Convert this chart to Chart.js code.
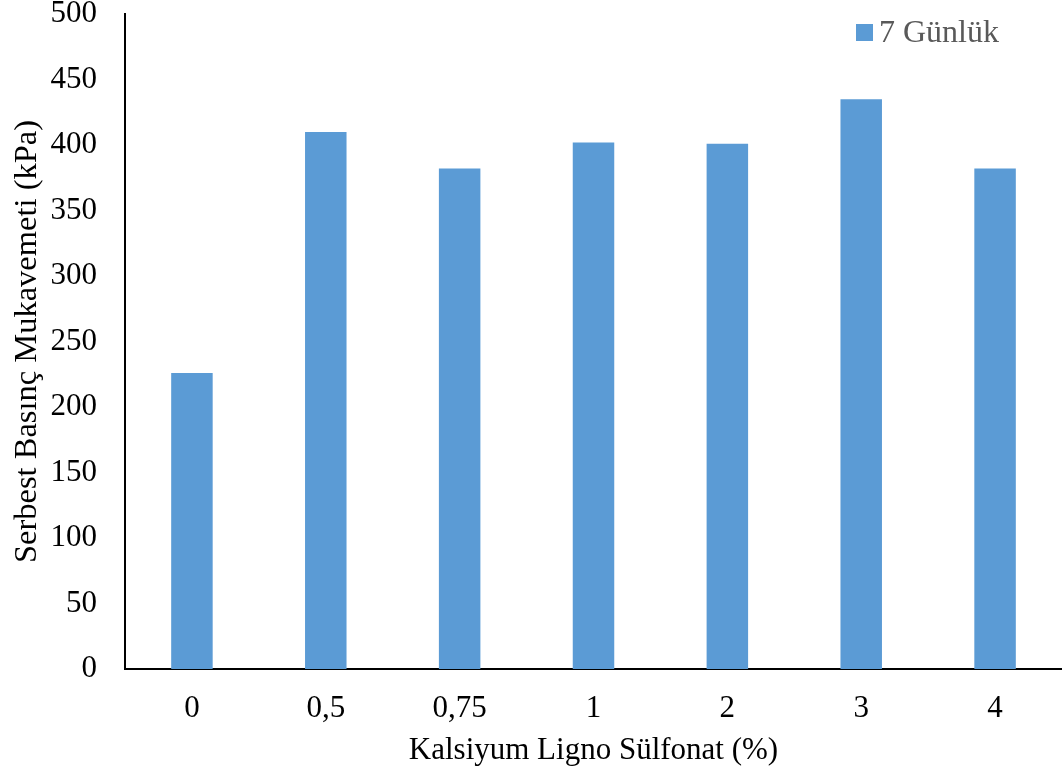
<!DOCTYPE html>
<html>
<head>
<meta charset="utf-8">
<script src="https://cdn.jsdelivr.net/npm/chart.js@4/dist/chart.umd.min.js"></script>
<style>
  html, body { margin: 0; padding: 0; background: #fff; }
  #wrap { width: 1062px; height: 771px; }
</style>
</head>
<body>
<div id="wrap"><canvas id="chart"></canvas></div>
<script>
// Données
const categories = ["0", "0,5", "0,75", "1", "2", "3", "4"];
const values7 = [226, 410, 382, 402, 401, 435, 382];
const seriesLabel = "7 Günlük";
const yTicks = [0, 50, 100, 150, 200, 250, 300, 350, 400, 450, 500];

const barColor = "#5B9BD5";
const serif = "'Liberation Serif', 'Times New Roman', serif";

// Légende dessinée dans la zone du graphique (coin haut droit)
const insideLegend = {
  id: "insideLegend",
  afterDraw(chart) {
    const ctx = chart.ctx;
    const ds = chart.data.datasets[0];
    const x = 856, y = 24, box = 17;
    ctx.save();
    ctx.fillStyle = ds.backgroundColor;
    ctx.fillRect(x, y, box, box);
    ctx.fillStyle = "#595959";
    ctx.font = "32px " + serif;
    ctx.textBaseline = "middle";
    ctx.fillText(ds.label, x + box + 6, y + box / 2 + 1);
    ctx.restore();
  }
};

new Chart(document.getElementById("chart"), {
  type: "bar",
  data: {
    labels: categories,
    datasets: [{
      label: seriesLabel,
      data: values7,
      backgroundColor: barColor,
      categoryPercentage: 1,
      barPercentage: 0.31
    }]
  },
  options: {
    responsive: true,
    maintainAspectRatio: false,
    animation: false,
    layout: { padding: { top: 14, right: 0, left: 0, bottom: 0 } },
    plugins: {
      legend: { display: false },
      tooltip: { enabled: false }
    },
    scales: {
      x: {
        grid: { display: false, drawTicks: false },
        border: { display: true, color: "#000", width: 2 },
        ticks: { color: "#000", font: { family: serif, size: 31 }, padding: 21 },
        title: {
          display: true,
          text: "Kalsiyum Ligno Sülfonat (%)",
          color: "#000",
          font: { family: serif, size: 31 },
          padding: { top: 0, bottom: 2 }
        },
        afterFit(scale) { scale.height = 102; }
      },
      y: {
        min: 0,
        max: 500,
        afterBuildTicks(scale) { scale.ticks = yTicks.map(v => ({ value: v })); },
        grid: { display: false, drawTicks: false },
        border: { display: true, color: "#000", width: 2 },
        ticks: { color: "#000", font: { family: serif, size: 31 }, padding: 28 },
        title: {
          display: true,
          text: "Serbest Basınç Mukavemeti (kPa)",
          color: "#000",
          font: { family: serif, size: 32.5 },
          padding: { top: 8, bottom: 0 }
        },
        afterFit(scale) {
          scale.width = 125;
          // la moitié de l'étiquette "500" ne doit pas réduire la zone du graphique
          scale.paddingTop = 0;
          scale.paddingBottom = 0;
        }
      }
    }
  },
  plugins: [insideLegend]
});
</script>
</body>
</html>
